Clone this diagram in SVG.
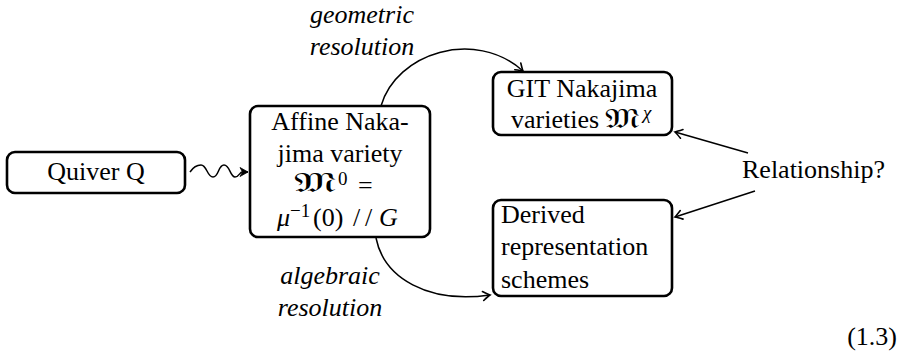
<svg xmlns="http://www.w3.org/2000/svg" width="905" height="361" viewBox="0 0 905 361">
<style>
.box{fill:#fff;stroke:#000;stroke-width:2.6}
.t{font-family:"Liberation Serif","Times New Roman",serif;font-size:26px;fill:#000}
.c{text-anchor:middle}
.it{font-style:italic}
.fr{font-family:"DejaVu Serif","DejaVu Sans","Noto Sans",serif;font-size:27px;fill:#000}
.sup{font-size:19px}
.edge{fill:none;stroke:#000;stroke-width:1.5}
</style>
<defs>
<marker id="to" viewBox="-10 -6 12 12" refX="0" refY="0" markerWidth="12" markerHeight="12" orient="auto" markerUnits="userSpaceOnUse">
<path d="M-7,-4.5 Q-2,-1 0,0 Q-2,1 -7,4.5" fill="none" stroke="#000" stroke-width="1.6" stroke-linecap="round"/>
</marker>
<marker id="stealth" viewBox="-10 -6 12 12" refX="0" refY="0" markerWidth="12" markerHeight="12" orient="auto" markerUnits="userSpaceOnUse">
<path d="M0,0 L-8,-4.5 L-5.5,0 L-8,4.5 Z" fill="#000" stroke="#000" stroke-width="0.8" stroke-linejoin="round"/>
</marker>
</defs>
<rect width="905" height="361" fill="#fff"/>
<g id="connectors">
<path class="edge" d="M190,172 C194,166 197,165 201,165 C207,165 207,177 213,177 C219,177 218,165 224,165 C230,165 230,177 235,177 C239,177 240,172 242,172 L248,172" marker-end="url(#stealth)"/>
<path class="edge" d="M381,106 C396,53 475,28 523,71" marker-end="url(#to)"/>
<path class="edge" d="M376,238 C384,278 428,304 490,295" marker-end="url(#to)"/>
<path class="edge" d="M748,153 L675,132" marker-end="url(#to)"/>
<path class="edge" d="M755,191 L675,217" marker-end="url(#to)"/>
<text class="t it c" x="362" y="23">geometric</text>
<text class="t it c" x="362" y="55">resolution</text>
<text class="t it c" x="330" y="284">algebraic</text>
<text class="t it c" x="330" y="316">resolution</text>
</g>
<g id="quiver">
<rect class="box" x="7" y="152" width="178" height="41" rx="8"/>
<text class="t c" x="96" y="180">Quiver Q</text>
</g>
<g id="affine">
<rect class="box" x="250" y="106" width="180" height="131" rx="8"/>
<text class="t c" x="340" y="130">Affine Naka-</text>
<text class="t c" x="340" y="162">jima variety</text>
<text class="fr" transform="translate(294,192) scale(1.7,1)">𝔐</text>
<text class="t" x="338" y="185"><tspan class="sup">0</tspan><tspan x="358" dy="9">=</tspan></text>
<text class="t" x="277" y="226"><tspan class="it">μ</tspan><tspan class="sup" dy="-9">−1</tspan><tspan x="313" dy="9">(0)</tspan><tspan x="353">/</tspan><tspan x="365">/</tspan><tspan class="it" x="379">G</tspan></text>
</g>
<g id="git">
<rect class="box" x="493" y="72" width="179" height="63" rx="8"/>
<text class="t" x="511" y="128">varieties</text>
<text class="fr" transform="translate(605,128) scale(1.4,1)">𝔐</text>
<text class="t it sup" x="643" y="119">χ</text>
<text class="t c" x="582" y="97">GIT Nakajima</text>
</g>
<g id="derived">
<rect class="box" x="493" y="200" width="179" height="96" rx="8"/>
<text class="t" x="501" y="223">Derived</text>
<text class="t" x="501" y="255">representation</text>
<text class="t" x="501" y="288">schemes</text>
</g>
<g id="relationship">
<text class="t" x="742" y="178">Relationship?</text>
</g>
<text class="t" x="897" y="345" text-anchor="end">(1.3)</text>
</svg>
